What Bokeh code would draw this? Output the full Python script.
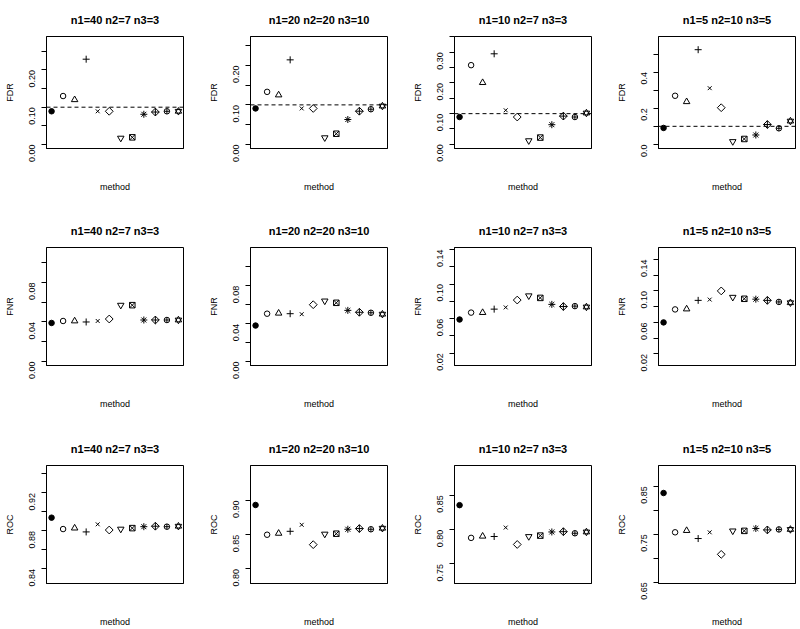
import math
from bokeh.plotting import figure
from bokeh.layouts import gridplot
from bokeh.models import Span, FixedTicker, Range1d
from bokeh.embed import file_html
from bokeh.resources import INLINE

# ---------------- data ----------------
method = [1, 2, 3, 4, 5, 6, 7, 8, 9, 10, 11, 12]
titles = ["n1=40 n2=7 n3=3", "n1=20 n2=20 n3=10", "n1=10 n2=7 n3=3", "n1=5 n2=10 n3=5"]
metrics = ["FDR", "FNR", "ROC"]
fdr_target = 0.10

fdr_values = [
    [0.089, 0.130, 0.120, 0.229, 0.089, 0.089, 0.017, 0.019, 0.081, 0.087, 0.089, 0.089],
    [0.091, 0.133, 0.125, 0.214, 0.091, 0.091, 0.017, 0.027, 0.063, 0.084, 0.089, 0.097],
    [0.089, 0.258, 0.201, 0.295, 0.111, 0.089, 0.012, 0.022, 0.064, 0.092, 0.089, 0.102],
    [0.091, 0.269, 0.236, 0.524, 0.311, 0.203, 0.016, 0.030, 0.052, 0.110, 0.089, 0.129],
]
fnr_values = [
    [0.039, 0.041, 0.041, 0.040, 0.041, 0.043, 0.057, 0.057, 0.042, 0.042, 0.042, 0.042],
    [0.038, 0.0505, 0.051, 0.0505, 0.050, 0.060, 0.064, 0.062, 0.054, 0.052, 0.0515, 0.050],
    [0.059, 0.067, 0.067, 0.071, 0.073, 0.0815, 0.0865, 0.084, 0.0765, 0.074, 0.0745, 0.0735],
    [0.060, 0.0765, 0.077, 0.088, 0.089, 0.100, 0.092, 0.090, 0.0895, 0.088, 0.086, 0.085],
]
roc_values = [
    [0.894, 0.882, 0.883, 0.879, 0.887, 0.881, 0.882, 0.883, 0.8845, 0.885, 0.8845, 0.885],
    [0.8935, 0.850, 0.852, 0.855, 0.8645, 0.8355, 0.851, 0.8515, 0.858, 0.859, 0.858, 0.8595],
    [0.8356, 0.788, 0.7904, 0.790, 0.803, 0.7784, 0.790, 0.7913, 0.7966, 0.797, 0.7947, 0.7966],
    [0.836, 0.754, 0.7576, 0.741, 0.754, 0.708, 0.757, 0.757, 0.762, 0.759, 0.760, 0.760],
]

# visible y ranges per panel
fdr_ylim = [(-0.011, 0.290), (-0.0104, 0.2731), (-0.0136, 0.3514), (-0.0227, 0.597)]
fnr_ylim = [(-0.004, 0.1153), (-0.0042, 0.1204), (0.0058, 0.1423), (0.0052, 0.1552)]
roc_ylim = [(0.8247, 0.9489), (0.7787, 0.9512), (0.7216, 0.8933), (0.6472, 0.8934)]

# ticks and their labels ("" = tick without label)
fdr_ticks = [
    [0.0, 0.05, 0.10, 0.15, 0.20, 0.25],
    [0.0, 0.05, 0.10, 0.15, 0.20, 0.25],
    [0.0, 0.05, 0.10, 0.15, 0.20, 0.25, 0.30, 0.35],
    [0.0, 0.1, 0.2, 0.3, 0.4, 0.5],
]
fdr_labels = [
    ["0.00", "", "0.10", "", "0.20", ""],
    ["0.00", "", "0.10", "", "0.20", ""],
    ["0.00", "", "0.10", "", "0.20", "", "0.30", ""],
    ["0.0", "", "0.2", "", "0.4", ""],
]
fnr_ticks = [
    [0.0, 0.02, 0.04, 0.06, 0.08, 0.10],
    [0.0, 0.02, 0.04, 0.06, 0.08, 0.10],
    [0.02, 0.04, 0.06, 0.08, 0.10, 0.12, 0.14],
    [0.02, 0.04, 0.06, 0.08, 0.10, 0.12, 0.14],
]
fnr_labels = [
    ["0.00", "", "0.04", "", "0.08", ""],
    ["0.00", "", "0.04", "", "0.08", ""],
    ["0.02", "", "0.06", "", "0.10", "", "0.14"],
    ["0.02", "", "0.06", "", "0.10", "", "0.14"],
]
roc_ticks = [
    [0.84, 0.86, 0.88, 0.90, 0.92, 0.94],
    [0.80, 0.85, 0.90],
    [0.75, 0.80, 0.85],
    [0.65, 0.70, 0.75, 0.80, 0.85],
]
roc_labels = [
    ["0.84", "", "0.88", "", "0.92", ""],
    ["0.80", "0.85", "0.90"],
    ["0.75", "0.80", "0.85"],
    ["0.65", "", "0.75", "", "0.85"],
]

# plotting symbols (R pch 16, 1, 2, 3, 4, 5, 6, 7, 8, 9, 10, 11)
# (marker, size, filled, angle)
Q = math.pi / 4
symbols = [
    [("circle", 5.5, True, 0)],
    [("circle", 5.5, False, 0)],
    [("triangle", 6.5, False, 0)],
    [("cross", 7, False, 0)],
    [("x", 5.5, False, 0)],
    [("square", 5.5, False, Q)],
    [("inverted_triangle", 6.5, False, 0)],
    [("square_x", 5.5, False, 0)],
    [("asterisk", 7, False, 0)],
    [("square_x", 5.5, False, Q)],
    [("circle_cross", 5.5, False, 0)],
    [("triangle", 6.5, False, 0), ("inverted_triangle", 6.5, False, 0)],
]

all_values = [fdr_values, fnr_values, roc_values]
all_ylim = [fdr_ylim, fnr_ylim, roc_ylim]
all_ticks = [fdr_ticks, fnr_ticks, roc_ticks]
all_labels = [fdr_labels, fnr_labels, roc_labels]

FONT = "Liberation Sans"
col_left = [46, 50, 54, 58]
FRAME_W = 137
CELL_W = 200
row_top = [30, 53, 54]
FRAME_H = 118
BOTTOM = 46

rows = []
for r in range(3):
    row_figs = []
    top = row_top[r]
    height = top + FRAME_H + BOTTOM
    for c in range(4):
        lo, hi = all_ylim[r][c]
        p = figure(
            width=CELL_W, height=height,
            x_range=Range1d(0.56, 12.44), y_range=Range1d(lo, hi),
            output_backend="svg", toolbar_location=None,
            min_border_left=col_left[c], min_border_right=CELL_W - col_left[c] - FRAME_W,
            min_border_top=top, min_border_bottom=BOTTOM,
            title=titles[c],
        )
        p.title.align = "center"
        p.title.text_font = FONT
        p.title.text_font_size = "11px"
        p.title.text_font_style = "bold"
        p.title.text_color = "black"
        p.title.padding = 6

        p.grid.visible = False
        p.outline_line_color = "black"
        p.outline_line_alpha = 1.0
        p.outline_line_width = 1
        p.background_fill_color = "white"
        p.border_fill_color = "white"

        ya = p.yaxis[0]
        ya.ticker = FixedTicker(ticks=all_ticks[r][c])
        ya.major_label_overrides = {t: s for t, s in zip(all_ticks[r][c], all_labels[r][c])}
        ya.major_label_orientation = math.pi / 2
        ya.major_label_text_font = FONT
        ya.major_label_text_font_size = "9px"
        ya.major_label_text_color = "black"
        ya.major_label_standoff = 9
        ya.major_tick_out = 5
        ya.major_tick_in = 0
        ya.minor_tick_line_color = None
        ya.axis_line_color = "black"
        ya.major_tick_line_color = "black"
        ya.axis_label = metrics[r]
        ya.axis_label_text_font = FONT
        ya.axis_label_text_font_size = "9px"
        ya.axis_label_text_font_style = "normal"
        ya.axis_label_text_color = "black"
        ya.axis_label_standoff = 9

        xa = p.xaxis[0]
        xa.ticker = FixedTicker(ticks=[])
        xa.major_tick_out = 0
        xa.major_tick_in = 0
        xa.minor_tick_line_color = None
        xa.axis_line_color = "black"
        xa.axis_label = "method"
        xa.axis_label_text_font = FONT
        xa.axis_label_text_font_size = "9px"
        xa.axis_label_text_font_style = "normal"
        xa.axis_label_text_color = "black"
        xa.axis_label_standoff = 33

        if r == 0:
            p.add_layout(Span(location=fdr_target, dimension="width", line_color="black",
                              line_dash="4 3", line_width=1))

        vals = all_values[r][c]
        for i, m in enumerate(method):
            for (mk, sz, filled, ang) in symbols[i]:
                p.scatter(x=[m], y=[vals[i]], marker=mk, size=sz, angle=ang,
                          line_color="black", line_width=1,
                          fill_color="black" if filled else None)
        row_figs.append(p)
    rows.append(row_figs)

grid = gridplot(rows, toolbar_location=None)
open("out.html", "w").write(file_html(grid, INLINE))
